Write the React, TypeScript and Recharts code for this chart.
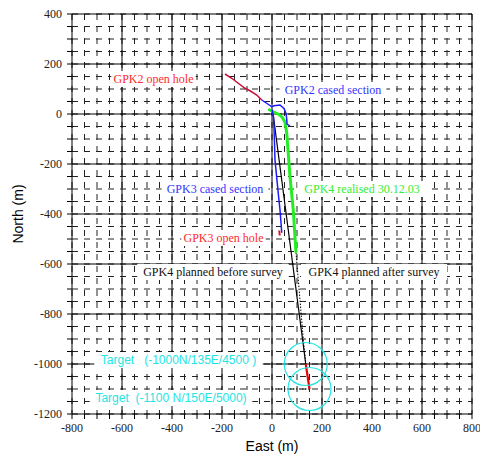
import {
  ComposedChart, Line, XAxis, YAxis, CartesianGrid,
  ReferenceLine, ReferenceDot, Label,
} from "recharts";

// axis labels (every 200 m) and the 50 m minor grid
const xLabels = [-800, -600, -400, -200, 0, 200, 400, 600, 800];
const yLabels = [400, 200, 0, -200, -400, -600, -800, -1000, -1200];
const xMinor = Array.from({ length: 33 }, (_, i) => -800 + i * 50);
const yMinor = Array.from({ length: 33 }, (_, i) => 400 - i * 50);

// well traces, East (x) / North (y) in metres
const gpk2Open = [
  { x: -188, y: 160 }, { x: -161, y: 143 }, { x: -135, y: 123 }, { x: -108, y: 103 },
  { x: -88, y: 93 }, { x: -61, y: 76 }, { x: -41, y: 56 },
];
const gpk2Cased = [
  { x: -41, y: 56 }, { x: -20, y: 42 }, { x: -1, y: 29 }, { x: 8, y: 33 }, { x: 32, y: 36 },
  { x: 48, y: 22 }, { x: 56, y: 2 }, { x: 59, y: -20 }, { x: 60, y: -40 }, { x: 72, y: -48 },
];
const gpk3Cased = [
  { x: 0, y: 18 }, { x: 5, y: -4 }, { x: 8, y: -51 }, { x: 12, y: -184 },
  { x: 25, y: -317 }, { x: 32, y: -384 }, { x: 39, y: -475 },
];
const gpk3Open = [{ x: 29, y: -466 }, { x: 31, y: -486 }];
const gpk4Real = [
  { x: -15, y: 19 }, { x: 5, y: 9 }, { x: 28, y: -2 }, { x: 42, y: -15 }, { x: 52, y: -33 },
  { x: 59, y: -77 }, { x: 72, y: -251 }, { x: 85, y: -384 }, { x: 96, y: -555 },
];
const gpk4Before = [{ x: 5, y: -4 }, { x: 135, y: -1000 }];
const gpk4Target = [{ x: 135, y: -1000 }, { x: 150, y: -1100 }];
const gpk4After = [
  { x: 96, y: -555 }, { x: 112, y: -744 }, { x: 125, y: -900 }, { x: 135, y: -1000 },
];
const gpk4AfterFoot = [{ x: 0, y: -1100 }, { x: 150, y: -1100 }];
const targets = [{ x: 135, y: -1000 }, { x: 150, y: -1100 }];

const SERIF = "'Liberation Serif', 'Times New Roman', serif";
const SANS = "'Liberation Sans', Arial, sans-serif";

const notes = [
  { text: "GPK2 open hole", x: -474, y: 140, color: "#ff2a2a", font: SERIF },
  { text: "GPK2 cased section", x: 244, y: 96, color: "#3333ff", font: SERIF },
  { text: "GPK3 cased section", x: -228, y: -298, color: "#3333ff", font: SERIF },
  { text: "GPK4 realised 30.12.03", x: 360, y: -300, color: "#33ee33", font: SERIF },
  { text: "GPK3 open hole", x: -194, y: -496, color: "#ff2a2a", font: SERIF },
  { text: "GPK4 planned before survey", x: -236, y: -632, color: "#111", font: SERIF },
  { text: "GPK4 planned after survey", x: 408, y: -632, color: "#111", font: SERIF },
  { text: "Target   (-1000N/135E/4500 )", x: -374, y: -984, color: "#22e5e5", font: SANS },
  { text: "Target  (-1100 N/150E/5000)", x: -404, y: -1136, color: "#22e5e5", font: SANS },
];

const NoteBox = ({ cx, cy, text, color, font }: { cx?: number; cy?: number; text: string; color: string; font: string }) => {
  if (cx == null || cy == null) return null;
  const w = text.length * (font === SANS ? 5.8 : 5.6) + 6;
  return (
    <g>
      <rect x={cx - w / 2} y={cy - 8} width={w} height={16} fill="#fff" />
      <text x={cx} y={cy} textAnchor="middle" dominantBaseline="central" xmlSpace="preserve"
        style={{ whiteSpace: "pre" }}
        fontFamily={font} fontSize={12} fill={color}>{text}</text>
    </g>
  );
};

const tickStyle = { fontSize: 12, fill: "#222", fontFamily: SERIF };
const fmt = (v: number) => (v % 200 === 0 ? String(v) : "");

export default function App() {
  return (
    <div style={{ position: "absolute", left: 0, top: 0, background: "#fff" }}>
      <ComposedChart width={480} height={454} margin={{ top: 14, right: 8, left: 0, bottom: 0 }}>
        <CartesianGrid vertical={false} stroke="#222" strokeDasharray="6 6" />
        <CartesianGrid horizontal={false} stroke="#222" strokeDasharray="6 6" />
        <XAxis
          type="number" dataKey="x" domain={[-800, 800]} ticks={xMinor} tickFormatter={fmt}
          allowDataOverflow height={40} interval={0}
          tick={tickStyle} tickSize={5} tickMargin={4}
          axisLine={{ stroke: "#000" }} tickLine={{ stroke: "#000" }}
        >
          <Label content={({ viewBox }: any) => (
            <text x={viewBox.x + viewBox.width / 2} y={viewBox.y + 37} textAnchor="middle"
              fontFamily={SANS} fontSize={14} fill="#000">East (m)</text>
          )} />
        </XAxis>
        <YAxis
          type="number" dataKey="y" domain={[-1200, 400]} ticks={yMinor} tickFormatter={fmt}
          allowDataOverflow width={72} interval={0}
          tick={tickStyle} tickSize={5} tickMargin={5}
          axisLine={{ stroke: "#000" }} tickLine={{ stroke: "#000" }}
        >
          <Label content={({ viewBox }: any) => (
            <text x={18} y={viewBox.y + viewBox.height / 2} textAnchor="middle" dominantBaseline="central"
              transform={`rotate(-90, 18, ${viewBox.y + viewBox.height / 2})`}
              fontFamily={SANS} fontSize={14} fill="#000">North (m)</text>
          )} />
        </YAxis>
        {xLabels.slice(1).map((v) => (
          <ReferenceLine key={"vx" + v} x={v} stroke="#000" strokeWidth={1} />
        ))}
        {yLabels.slice(0, -1).map((v) => (
          <ReferenceLine key={"hy" + v} y={v} stroke="#000" strokeWidth={1} />
        ))}
        {notes.map((n) => (
          <ReferenceDot key={n.text} x={n.x} y={n.y} r={1}
            shape={(p: any) => <NoteBox cx={p.cx} cy={p.cy} text={n.text} color={n.color} font={n.font} />} />
        ))}
        {targets.map((t, i) => (
          <ReferenceDot key={"t" + i} x={t.x} y={t.y} r={21.5} fill="none" stroke="#22e5e5" strokeWidth={1.2} />
        ))}
        <Line data={gpk4After} dataKey="y" stroke="#000" strokeWidth={1} strokeDasharray="1.5 1.5" dot={false} isAnimationActive={false} />
        <Line data={gpk4AfterFoot} dataKey="y" stroke="#000" strokeWidth={1} strokeDasharray="1.5 1.5" dot={false} isAnimationActive={false} />
        <Line data={gpk4Before} dataKey="y" stroke="#000" strokeWidth={1.2} dot={false} isAnimationActive={false} />
        <Line data={gpk4Target} dataKey="y" stroke="#ee0000" strokeWidth={2.2} dot={false} isAnimationActive={false} />
        <Line data={gpk4Real} dataKey="y" stroke="#22ee22" strokeWidth={3} dot={false} isAnimationActive={false} />
        <Line data={gpk3Cased} dataKey="y" stroke="#1a1aff" strokeWidth={1.5} dot={false} isAnimationActive={false} />
        <Line data={gpk3Open} dataKey="y" stroke="#e0102a" strokeWidth={2} dot={false} isAnimationActive={false} />
        <Line data={gpk2Open} dataKey="y" stroke="#c8103a" strokeWidth={1.5} dot={false} isAnimationActive={false} />
        <Line data={gpk2Cased} dataKey="y" stroke="#1a1aff" strokeWidth={1.5} dot={false} isAnimationActive={false} />
      </ComposedChart>
    </div>
  );
}
